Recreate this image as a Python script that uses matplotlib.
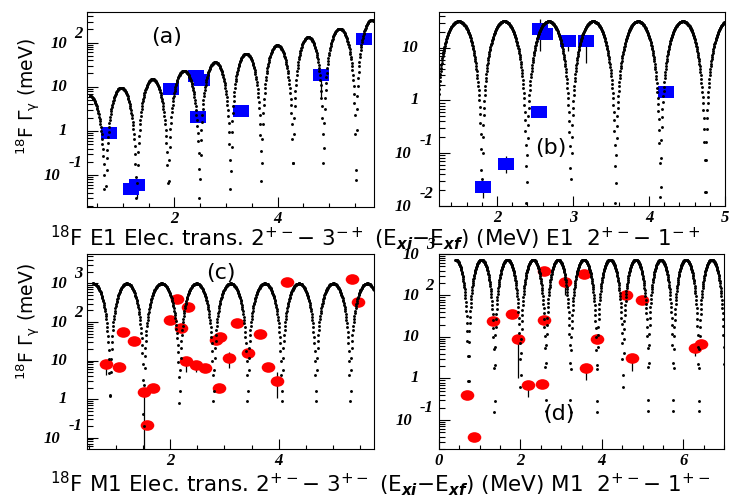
import numpy as np
import matplotlib
matplotlib.use('Agg')
import matplotlib.pyplot as plt
import matplotlib.transforms as mtransforms
from matplotlib.path import Path
from matplotlib.ticker import MultipleLocator, LogLocator, NullFormatter

plt.rcParams['font.family'] = 'Liberation Serif'
plt.rcParams['font.style'] = 'italic'
plt.rcParams['font.weight'] = 'bold'
plt.rcParams['mathtext.default'] = 'regular'

# ---- panel (a): E1 2+- -> 3-+ ----
a_dips = [0.05, 0.66, 1.27, 1.88, 2.49, 3.09, 3.69, 4.30, 4.89, 5.52, 6.13]
a_peaks = [6.2, 9.5, 14.8, 23, 36, 56, 87, 134, 207, 325]
a_x = [0.735, 1.16, 1.28, 1.94, 2.41, 2.53, 2.45, 3.29, 4.84, 5.68]
a_y = [0.91, 0.048, 0.06, 9.1, 17.4, 14.2, 2.1, 2.9, 18, 120]
a_lo = [0.91, 0.048, 0.03, 9.1, 17.4, 14.2, 2.1, 2.9, 5.9, 120]
a_hi = [0.91, 0.048, 0.06, 9.1, 17.4, 14.2, 2.1, 2.9, 18, 120]

# ---- panel (b): E1 2+- -> 1-+ ----
b_dips = [1.19, 1.80, 2.39, 2.97, 3.56, 4.15, 4.74, 5.33]
b_peaks = [32, 32, 32, 32, 32, 32, 32]
b_x = [1.82, 2.12, 2.56, 2.63, 2.55, 2.93, 3.17, 4.23]
b_y = [0.023, 0.063, 22.7, 18.5, 0.6, 13.3, 13.3, 1.47]
b_lo = [0.014, 0.042, 8.6, 18.5, 0.6, 8.6, 5.2, 1.47]
b_hi = [0.023, 0.087, 36, 18.5, 0.6, 16.5, 16.5, 1.47]

# ---- panel (c): M1 2+- -> 3+- ----
c_dips = [0.26, 0.89, 1.51, 2.17, 2.80, 3.43, 4.06, 4.69, 5.32, 5.95]
c_peaks = [1000, 1000, 1000, 1000, 1000, 1000, 1000, 1000, 1000]
c_x = [0.82, 1.06, 1.13, 1.34, 1.51, 1.69, 1.58, 2.0, 2.12, 2.32, 2.19, 2.29, 2.47,
       2.64, 2.84, 2.92, 2.90, 3.09, 3.24, 3.43, 3.65, 3.80, 3.97, 4.16, 5.35, 5.47]
c_y = [8.1, 6.7, 56, 33, 1.5, 2.0, 0.21, 116, 390, 242, 68, 10, 7.6,
       6.6, 34, 40, 2.0, 11.8, 96, 16, 50, 6.9, 3.0, 1070, 1300, 325]
c_lo = [4.2, 6.7, 56, 33, 0.01, 2.0, 0.21, 116, 390, 242, 68, 5.2, 5.0,
        6.6, 34, 40, 2.0, 6.3, 96, 16, 50, 6.9, 1.05, 1070, 1300, 325]
c_hi = [8.1, 6.7, 56, 33, 1.5, 2.0, 0.21, 116, 390, 242, 68, 10, 7.6,
        6.6, 34, 40, 2.0, 17, 96, 16, 50, 6.9, 5.2, 1070, 1300, 325]

# ---- panel (d): M1 2+- -> 1+- ----
d_dips = [0.09, 0.72, 1.36, 2.00, 2.62, 3.23, 3.88, 4.52, 5.14, 5.75, 6.38, 7.01]
d_peaks = [730, 730, 730, 730, 730, 730, 730, 730, 730, 730, 730]
d_x = [0.68, 0.85, 1.32, 1.79, 1.95, 2.18, 2.54, 2.57, 2.58, 3.09, 3.56, 3.60,
       3.87, 4.60, 4.99, 4.73, 6.29, 6.43]
d_y = [0.40, 0.038, 24.6, 36, 8.9, 0.68, 0.74, 395, 25.5, 206, 330, 1.8,
       8.9, 100, 79, 3.1, 5.4, 6.7]
d_lo = [0.40, 0.038, 24.6, 36, 1.0, 0.36, 0.74, 395, 25.5, 104, 330, 0.91,
        8.9, 100, 79, 1.5, 3.5, 6.7]
d_hi = [0.40, 0.038, 24.6, 36, 8.9, 0.68, 0.74, 395, 25.5, 206, 330, 1.8,
        8.9, 100, 79, 3.1, 5.4, 6.7]

# marker shapes: flat rectangle and flat ellipse
rect = Path([(-1, -0.8), (1, -0.8), (1, 0.8), (-1, 0.8), (-1, -0.8)],
            [Path.MOVETO, Path.LINETO, Path.LINETO, Path.LINETO, Path.CLOSEPOLY])
circ = Path.unit_circle()
ellipse = Path(circ.vertices * np.array([1.0, 0.78]), circ.codes)


def arch_curve(dips, peaks, x0, x1, step):
    # dotted theory curve: one arch between each pair of read-off minima
    x = np.arange(x0, x1, step)
    y = np.full_like(x, np.nan)
    for d0, d1, p in zip(dips[:-1], dips[1:], peaks):
        m = (x >= d0) & (x < d1)
        y[m] = p * np.sin(np.pi * (x[m] - d0) / (d1 - d0)) ** 2
    return x, y


def ylabels(ax, exps):
    tr = mtransforms.blended_transform_factory(ax.transAxes, ax.transData)
    for e in exps:
        yv = 10.0 ** e
        if e in (0, 1):
            ax.annotate('1' if e == 0 else '10', (0, yv), xycoords=tr,
                        xytext=(-20, 0), textcoords='offset pixels',
                        ha='right', va='center', fontsize=12)
        else:
            es = str(e)
            ax.annotate(es, (0, yv), xycoords=tr,
                        xytext=(-5, 9 if e > 0 else 12), textcoords='offset pixels',
                        ha='right', va='center', fontsize=12)
            ax.annotate('10', (0, yv), xycoords=tr,
                        xytext=(-5 - 7 * len(es) - 8, -1), textcoords='offset pixels',
                        ha='right', va='center', fontsize=12)


def panel(rect_pos, xlim, ylim, curve, px, py, lo, hi, marker, color, ms,
          xmaj, xmin, exps, tag, tag_xy):
    ax = fig.add_axes(rect_pos)
    ax.set_yscale('log')
    ax.errorbar(px, py, yerr=[np.array(py) - np.array(lo), np.array(hi) - np.array(py)],
                fmt='none', ecolor='black', elinewidth=0.9, capsize=0, zorder=2)
    ax.plot(px, py, linestyle='none', marker=marker, ms=ms, color=color,
            markeredgewidth=0, zorder=3)
    cx, cy = curve
    ax.plot(cx, cy, linestyle='none', marker='o', ms=2.1, markeredgewidth=0,
            color='black', zorder=4)
    ax.set_xlim(*xlim)
    ax.set_ylim(*ylim)
    ax.xaxis.set_major_locator(MultipleLocator(xmaj))
    ax.xaxis.set_minor_locator(MultipleLocator(xmin))
    ax.yaxis.set_major_locator(LogLocator(base=10))
    ax.yaxis.set_minor_locator(LogLocator(base=10, subs=np.arange(2, 10)))
    ax.yaxis.set_major_formatter(NullFormatter())
    ax.yaxis.set_minor_formatter(NullFormatter())
    ax.tick_params(axis='both', which='both', direction='in', top=False, right=False,
                   width=0.8, color='black')
    ax.tick_params(axis='x', which='major', length=7, labelsize=12, pad=3)
    ax.tick_params(axis='x', which='minor', length=3)
    ax.tick_params(axis='y', which='major', length=8)
    ax.tick_params(axis='y', which='minor', length=4)
    for s in ax.spines.values():
        s.set_linewidth(0.8)
    ylabels(ax, exps)
    ax.text(tag_xy[0], tag_xy[1], tag, transform=fig.transFigure, ha='center',
            va='center', fontsize=16, family='DejaVu Sans', style='normal',
            weight='normal')
    return ax


W, H = 729, 499
fig = plt.figure(figsize=(W / 100, H / 100), dpi=100)


def pos(l, r, t, b):
    return [l / W, 1 - b / H, (r - l) / W, (b - t) / H]


panel(pos(87.3, 374, 11.7, 207), (0.31, 5.87), (0.019, 500),
      arch_curve(a_dips, a_peaks, 0.355, 5.87, 0.008),
      a_x, a_y, a_lo, a_hi, rect, '#0000ff', 11, 2, 0.5,
      [-1, 0, 1, 2], '(a)', (166.7 / W, 1 - 37.3 / H))
panel(pos(438.5, 725, 12, 205.7), (1.23, 5.0), (0.01, 48),
      arch_curve(b_dips, b_peaks, 1.23, 5.0, 0.0045),
      b_x, b_y, b_lo, b_hi, rect, '#0000ff', 11, 1, 0.2,
      [-2, -1, 0, 1], '(b)', (550.8 / W, 1 - 148.3 / H))
panel(pos(87.3, 374, 254, 449), (0.47, 5.76), (0.051, 5800),
      arch_curve(c_dips, c_peaks, 0.575, 5.76, 0.007),
      c_x, c_y, c_lo, c_hi, ellipse, '#ff0000', 9.8, 2, 0.5,
      [-1, 0, 1, 2, 3], '(c)', (220.8 / W, 1 - 272.5 / H))
panel(pos(439, 724, 254, 449), (0, 7), (0.02, 1000),
      arch_curve(d_dips, d_peaks, 0.405, 7.0, 0.007),
      d_x, d_y, d_lo, d_hi, ellipse, '#ff0000', 9.8, 2, 0.5,
      [-1, 0, 1, 2, 3], '(d)', (559 / W, 1 - 414 / H))

title_kw = dict(family='DejaVu Sans', style='normal', weight='normal', fontsize=15.5,
                ha='left', va='center')
fig.text(50 / W, 1 - 238 / H,
         r'$^{18}$F E1 Elec. trans. 2$^{+-}$$-$ 3$^{-+}$ (E$_{\mathbf{xi}}$$-$E$_{\mathbf{xf}}$) (MeV) E1  2$^{+-}$$-$ 1$^{-+}$',
         **title_kw)
fig.text(50 / W, 1 - 484 / H,
         r'$^{18}$F M1 Elec. trans. 2$^{+-}$$-$ 3$^{+-}$ (E$_{\mathbf{xi}}$$-$E$_{\mathbf{xf}}$) (MeV) M1  2$^{+-}$$-$ 1$^{+-}$',
         **title_kw)

ylab_kw = dict(family='DejaVu Sans', style='normal', weight='normal', fontsize=13.5,
               rotation=90, ha='center', va='center')
fig.text(29 / W, 1 - 97 / H, r'$^{18}$F $\Gamma_{\gamma}$ (meV)', **ylab_kw)
fig.text(29 / W, 1 - 322 / H, r'$^{18}$F $\Gamma_{\gamma}$ (meV)', **ylab_kw)

fig.savefig('out.png', dpi=100)
